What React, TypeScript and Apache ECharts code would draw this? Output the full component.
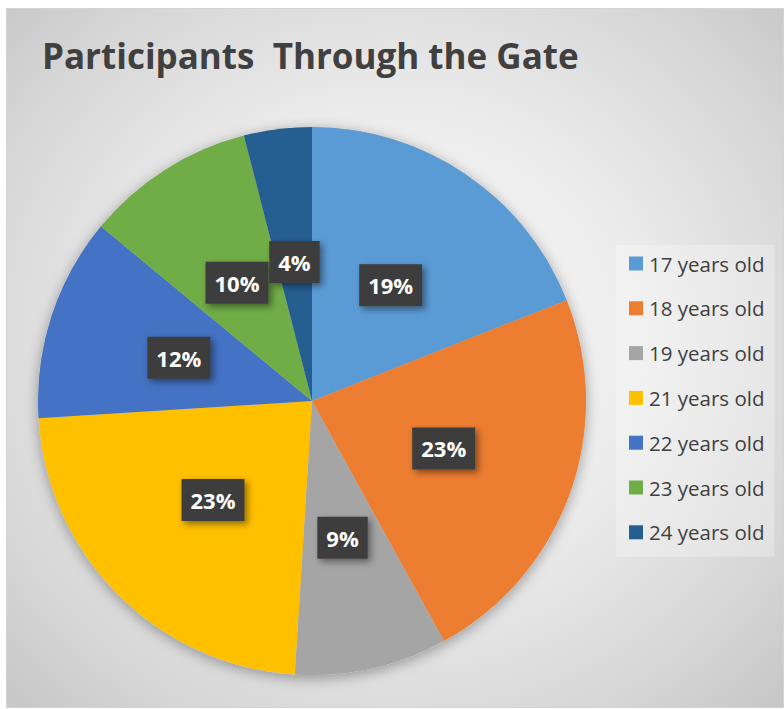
import React, { useEffect, useRef } from "react";
import * as echarts from "echarts";

const titleText = "Participants  Through the Gate";
const categories = [
  "17 years old",
  "18 years old",
  "19 years old",
  "21 years old",
  "22 years old",
  "23 years old",
  "24 years old",
];
const values = [19, 23, 9, 23, 12, 10, 4];
const colors = ["#5B9BD5", "#ED7D31", "#A5A5A5", "#FFC000", "#4472C4", "#70AD47", "#255E91"];

export default function App() {
  const ref = useRef<HTMLDivElement>(null);
  useEffect(() => {
    if (!ref.current) return;
    const chart = echarts.init(ref.current, undefined, { renderer: "svg" });
    const data = categories.map((name, i) => ({ name, value: values[i] }));
    chart.setOption({
      animation: false,
      backgroundColor: "transparent",
      title: {
        text: titleText,
        left: 35,
        top: 29,
        padding: 0,
        textStyle: {
          fontFamily: "Open Sans",
          fontWeight: "bold",
          fontSize: 35,
          color: "#404040",
        },
      },
      legend: {
        orient: "vertical",
        left: 609,
        top: 236,
        padding: [8, 10, 14, 13],
        backgroundColor: "rgba(255,255,255,0.28)",
        itemWidth: 14,
        itemHeight: 14,
        itemGap: 23.8,
        icon: "rect",
        selectedMode: false,
        data: categories,
        textStyle: {
          fontFamily: "Open Sans",
          fontSize: 20.5,
          lineHeight: 20,
          color: "#404040",
          padding: [0, 0, 0, 1],
        },
      },
      series: [
        {
          type: "pie",
          silent: true,
          center: [305, 392],
          radius: 274,
          startAngle: 90,
          clockwise: true,
          label: { show: false },
          labelLine: { show: false },
          data: [{ value: 1, name: "__shadow" }],
          itemStyle: {
            color: "#c8c8c8",
            shadowBlur: 14,
            shadowColor: "rgba(0,0,0,0.35)",
            shadowOffsetX: 0,
            shadowOffsetY: 3,
          },
          legendHoverLink: false,
        },
        {
          type: "pie",
          center: [305, 392],
          radius: 274,
          startAngle: 90,
          clockwise: true,
          color: colors,
          itemStyle: { borderWidth: 0 },
          label: {
            show: true,
            position: "inside",
            formatter: (p: any) => Math.round(p.percent) + "%",
            fontFamily: "Open Sans",
            fontWeight: "bold",
            fontSize: 22,
            lineHeight: 24,
            color: "#ffffff",
            backgroundColor: "#3d3d3d",
            padding: [9, 9],
            shadowColor: "rgba(0,0,0,0.45)",
            shadowBlur: 7,
            shadowOffsetX: 3,
            shadowOffsetY: 3,
          },
          labelLine: { show: false },
          data,
        },
      ],
    });
    return () => chart.dispose();
  }, []);
  return (
    <div
      style={{
        position: "absolute",
        left: 6,
        top: 8,
        width: 778,
        height: 700,
        boxSizing: "border-box",
        border: "1px solid #d4d4d4",
        background:
          "radial-gradient(ellipse at 50% 48%, #fbfbfb 0%, #ececec 45%, #d6d6d6 80%, #c6c6c6 100%)",
      }}
    >
      <div ref={ref} style={{ width: "100%", height: "100%" }} />
    </div>
  );
}
